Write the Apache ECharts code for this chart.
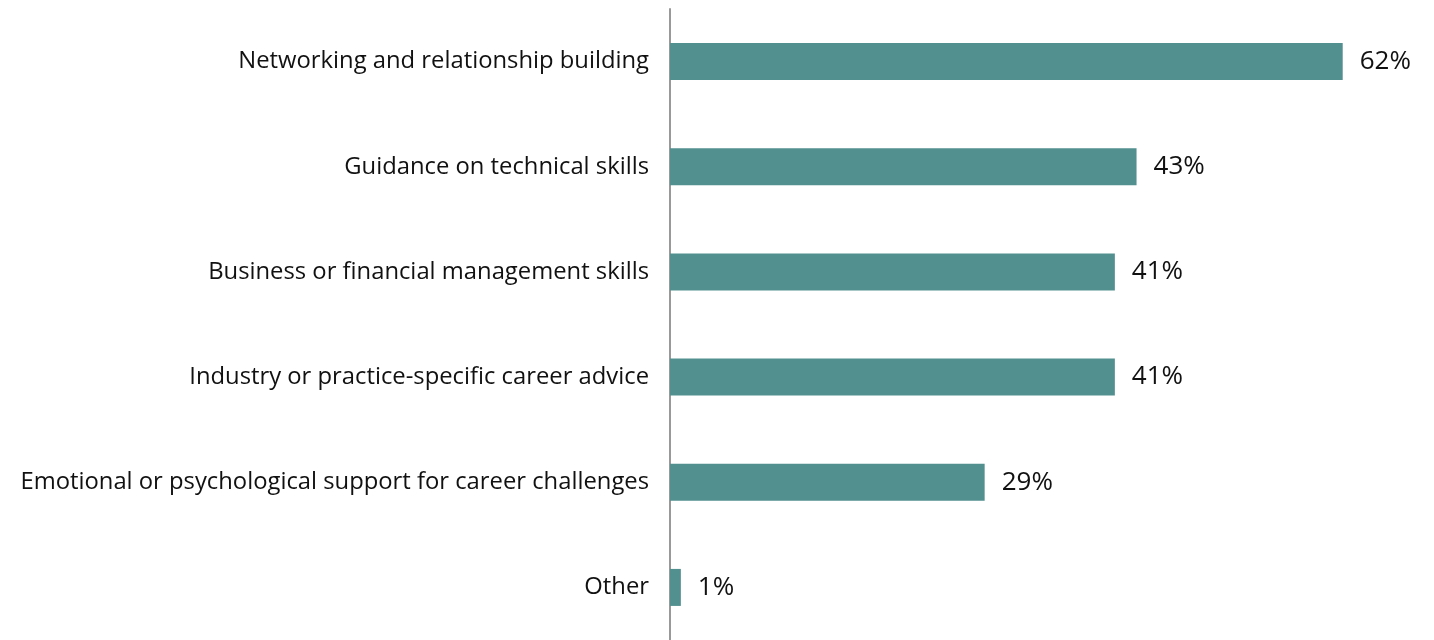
<!DOCTYPE html>
<html>
<head>
<meta charset="utf-8">
<script src="https://cdn.jsdelivr.net/npm/echarts@6/dist/echarts.min.js"></script>
<style>
  html, body { margin: 0; padding: 0; background: #ffffff; }
  #chart { width: 1434px; height: 640px; }
</style>
</head>
<body>
<div id="chart"></div>
<script>
// Kinds of support sought, listed top to bottom
const categories = [
  'Networking and relationship building',
  'Guidance on technical skills',
  'Business or financial management skills',
  'Industry or practice-specific career advice',
  'Emotional or psychological support for career challenges',
  'Other'
];
// Share of respondents, percent
const values = [62, 43, 41, 41, 29, 1];

const chart = echarts.init(document.getElementById('chart'));
chart.setOption({
  animation: false,
  grid: { left: 670, top: 9, width: 759.5, height: 637 },
  xAxis: {
    type: 'value',
    min: 0,
    max: 70,
    show: false
  },
  yAxis: {
    type: 'category',
    data: categories,
    inverse: true,
    axisLine: { show: true, lineStyle: { color: '#999999', width: 2 } },
    axisTick: { show: false },
    axisLabel: {
      margin: 21,
      color: '#111111',
      fontFamily: 'Open Sans',
      fontSize: 23.8,
      padding: [0, 0, 4, 0]
    }
  },
  series: [{
    type: 'bar',
    data: values,
    barWidth: 37,
    itemStyle: { color: '#528f8f' },
    label: {
      show: true,
      position: 'right',
      distance: 17,
      formatter: '{c}%',
      color: '#111111',
      fontFamily: 'Open Sans',
      fontSize: 26
    }
  }]
});
</script>
</body>
</html>
